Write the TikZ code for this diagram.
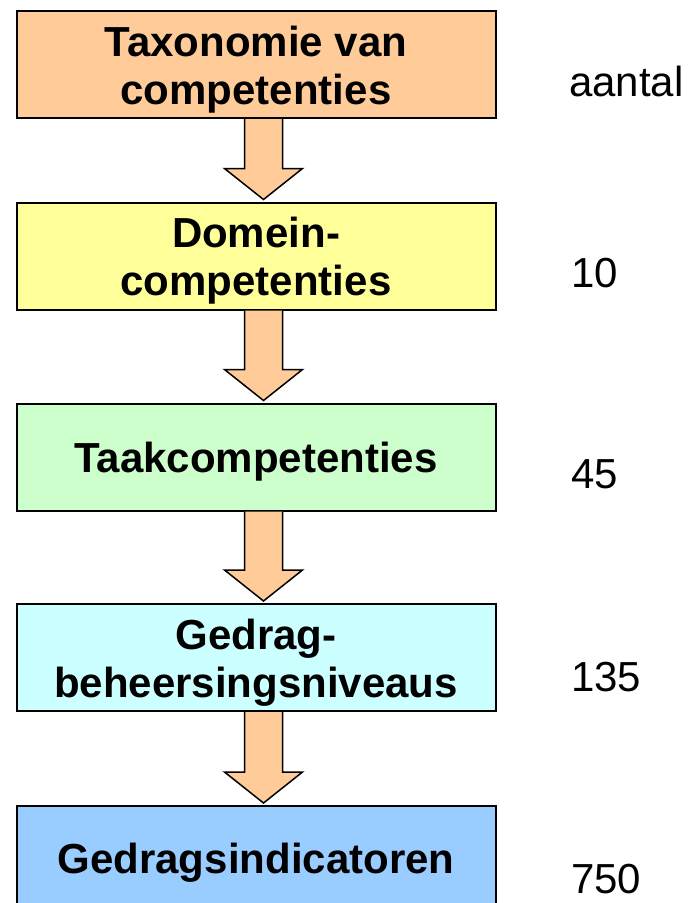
\documentclass[tikz,border=0pt]{standalone}
\usepackage{fontspec}
\setmainfont{Liberation Sans}
\usetikzlibrary{calc}
\definecolor{peach}{HTML}{FFCC99}
\definecolor{paleyellow}{HTML}{FFFF99}
\definecolor{palegreen}{HTML}{CCFFCC}
\definecolor{palecyan}{HTML}{CCFFFF}
\definecolor{paleblue}{HTML}{99CCFF}
\tikzset{
  levelbox/.style={draw=black, line width=2pt, rectangle, minimum width=479pt,
    minimum height=107pt, inner sep=0pt},
  boxtext/.style={inner sep=0pt, align=center,
    font=\fontsize{42}{48}\selectfont\bfseries},
  countlabel/.style={anchor=base west, inner sep=0pt,
    font=\fontsize{42}{48}\selectfont},
  arrowbody/.style={fill=peach, draw=black, line width=1.5pt, line join=miter}
}
% block arrow from the bottom of one box to the top of the next
\newcommand\levelarrow[2]{%
  \filldraw[arrowbody] let \p1=(#1.south), \p2=(#2.north) in
    (\x1-11.5pt,\y1) -- (\x1-11.5pt,\y2+33pt) -- (\x1-31.5pt,\y2+33pt)
    -- (\x1+7.5pt,\y2+2pt) -- (\x1+46.5pt,\y2+33pt) -- (\x1+26.5pt,\y2+33pt)
    -- (\x1+26.5pt,\y1);
}
\begin{document}
\begin{tikzpicture}[x=1pt,y=-1pt]
  \useasboundingbox[fill=white] (0,0) rectangle (691,903);

  \node[levelbox, fill=peach]      (b1) at (256,64.5)  {};
  \node[levelbox, fill=paleyellow] (b2) at (256,256)   {};
  \node[levelbox, fill=palegreen]  (b3) at (256,457)   {};
  \node[levelbox, fill=palecyan]   (b4) at (256,657.5) {};
  \node[levelbox, fill=paleblue]   (b5) at (256,859.5) {};

  \node[boxtext] (t1) at ($(b1.center)+(0,5)$) {Taxonomie van\\competenties};
  \node[boxtext] (t2) at ($(b2.center)+(0,5)$) {Domein-\\competenties};
  \node[boxtext] (t3) at ($(b3.center)+(0,5)$) {Taakcompetenties};
  \node[boxtext] (t4) at ($(b4.center)+(0,5)$) {Gedrag-\\beheersingsniveaus};
  \node[boxtext] (t5) at ($(b5.center)+(0,3)$) {Gedragsindicatoren};

  \levelarrow{b1}{b2}
  \levelarrow{b2}{b3}
  \levelarrow{b3}{b4}
  \levelarrow{b4}{b5}

  \node[countlabel] (n0) at (569,96)  {aantal};
  \node[countlabel] (n1) at (571,287) {10};
  \node[countlabel] (n2) at (571,488) {45};
  \node[countlabel] (n3) at (571,691) {135};
  \node[countlabel] (n4) at (571,893) {750};
\end{tikzpicture}
\end{document}
